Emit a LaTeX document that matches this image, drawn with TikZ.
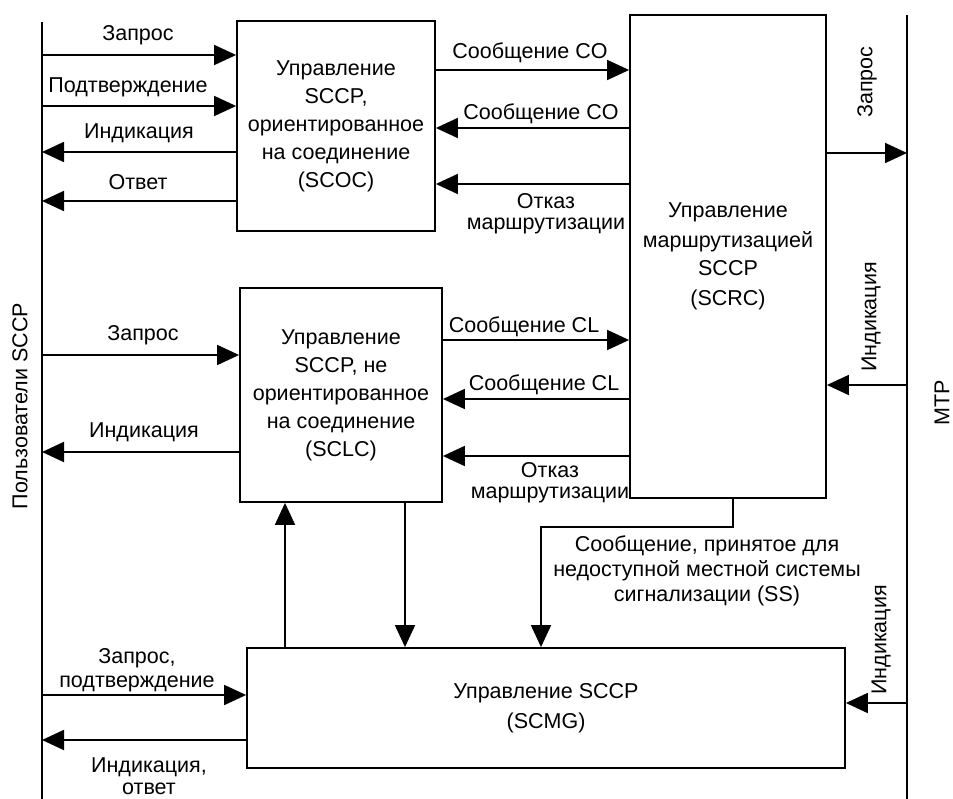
\documentclass[tikz,border=0pt]{standalone}
\usepackage{fontspec}
\setmainfont{Liberation Sans}
\usetikzlibrary{arrows.meta}
\newcommand\fsz{\fontsize{21.5}{28}\selectfont}
\begin{document}
\begin{tikzpicture}[x=1pt,y=-1pt,
  blk/.style={draw, line width=1.8pt, inner sep=0pt, align=center, font=\fsz},
  arr/.style={line width=1.8pt, -{Triangle[length=22pt,width=20pt]}},
  vline/.style={line width=1.1pt},
  lbl/.style={inner sep=0pt, anchor=center, font=\fsz}]
\useasboundingbox (0,0) rectangle (953,799);
% side lines
\coordinate (Lt) at (42,22);
\coordinate (Lb) at (42,799);
\coordinate (Rt) at (907,15);
\coordinate (Rb) at (907,799);
\draw[vline] (Lt) -- (Lb);
\draw[vline] (Rt) -- (Rb);
% blocks
\node[blk, minimum width=198pt, minimum height=210pt] (scoc) at (336,126)
  {Управление\\SCCP,\\ориентированное\\на соединение\\(SCOC)};
\node[blk, minimum width=196pt, minimum height=483pt] (scrc) at (728,256.5)
  {Управление\\[2pt]маршрутизацией\\SCCP\\[2pt](SCRC)};
\node[blk, minimum width=202pt, minimum height=214pt] (sclc) at (341,395)
  {Управление\\SCCP, не\\ориентированное\\на соединение\\(SCLC)};
\node[blk, minimum width=598pt, minimum height=120pt] (scmg) at (546,708)
  {Управление SCCP\\[2pt](SCMG)};
% SCOC <-> users
\draw[arr] (Lt |- 0,55) -- (scoc.west |- 0,55);
\draw[arr] (Lt |- 0,106) -- (scoc.west |- 0,106);
\draw[arr] (scoc.west |- 0,152) -- (Lt |- 0,152);
\draw[arr] (scoc.west |- 0,201) -- (Lt |- 0,201);
\node[lbl] (l1) at (138,35) {Запрос};
\node[lbl] (l2) at (128,87) {Подтверждение};
\node[lbl] (l3) at (139,133) {Индикация};
\node[lbl] (l4) at (138,182) {Ответ};
% SCOC <-> SCRC
\draw[arr] (scoc.east |- 0,70) -- (scrc.west |- 0,70);
\draw[arr] (scrc.west |- 0,128) -- (scoc.east |- 0,128);
\draw[arr] (scrc.west |- 0,184) -- (scoc.east |- 0,184);
\node[lbl] (l5) at (530,53) {Сообщение CO};
\node[lbl] (l6) at (541,114) {Сообщение CO};
\node[lbl, align=center] (l7) at (546,214) {Отказ\\[-7pt]маршрутизации};
% SCRC <-> MTP
\draw[arr] (scrc.east |- 0,153) -- (Rt |- 0,153);
\draw[arr] (Rt |- 0,385) -- (scrc.east |- 0,385);
\node[lbl, rotate=90] (l8) at (867,82) {Запрос};
\node[lbl, rotate=90] (l9) at (871,317) {Индикация};
% SCLC <-> users
\draw[arr] (Lt |- 0,355) -- (sclc.west |- 0,355);
\draw[arr] (sclc.west |- 0,452) -- (Lt |- 0,452);
\node[lbl] (l10) at (143,335) {Запрос};
\node[lbl] (l11) at (144,432) {Индикация};
% SCLC <-> SCRC
\draw[arr] (sclc.east |- 0,340) -- (scrc.west |- 0,340);
\draw[arr] (scrc.west |- 0,399) -- (sclc.east |- 0,399);
\draw[arr] (scrc.west |- 0,456) -- (sclc.east |- 0,456);
\node[lbl] (l12) at (524,327) {Сообщение CL};
\node[lbl] (l13) at (544,385) {Сообщение CL};
\node[lbl, align=center] (l14) at (550,483) {Отказ\\[-7pt]маршрутизации};
% SCLC <-> SCMG
\draw[arr] (scmg.north -| 285,0) -- (sclc.south -| 285,0);
\draw[arr] (sclc.south -| 405,0) -- (scmg.north -| 405,0);
% SCRC -> SCMG
\coordinate (b1) at (733,527);
\coordinate (b2) at (541,527);
\draw[arr] (scrc.south -| b1) -- (b1) -- (b2) -- (scmg.north -| b2);
\node[lbl, align=center] (l15) at (707,571)
  {Сообщение, принятое для\\[-3pt]недоступной местной системы\\[-3pt]сигнализации (SS)};
% SCMG <-> users / MTP
\draw[arr] (Lt |- 0,695) -- (scmg.west |- 0,695);
\draw[arr] (scmg.west |- 0,740) -- (Lt |- 0,740);
\draw[arr] (Rt |- 0,703) -- (scmg.east |- 0,703);
\node[lbl, align=center] (l16) at (137,670) {Запрос,\\[-4pt]подтверждение};
\node[lbl, align=center] (l17) at (149,776) {Индикация,\\[-6pt]ответ};
\node[lbl, rotate=90] (l18) at (881,640) {Индикация};
% side titles
\node[lbl, rotate=90] (users) at (20,406) {Пользователи SCCP};
\node[lbl, rotate=90] (mtp) at (942,403) {МТР};
\end{tikzpicture}
\end{document}
